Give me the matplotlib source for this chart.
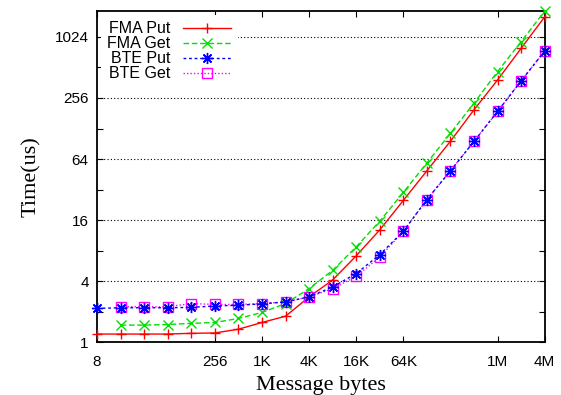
import numpy as np
import matplotlib
matplotlib.use('Agg')
import matplotlib.pyplot as plt

# message sizes in bytes, 8 .. 4M
sizes = [8, 16, 32, 64, 128, 256, 512, 1024, 2048, 4096, 8192, 16384, 32768,
         65536, 131072, 262144, 524288, 1048576, 2097152, 4194304]

fma_put = [1.2, 1.2, 1.2, 1.2, 1.22, 1.23, 1.34, 1.56, 1.8, 2.79, 4.1, 7.1,
           12.8, 25, 49, 96, 196, 386, 792, 1620]
# the get series start at 16 bytes
fma_get = [1.47, 1.47, 1.49, 1.53, 1.56, 1.71, 1.96, 2.4, 3.37, 5.1, 8.7,
           15.6, 30, 58.6, 115, 228, 467, 922, 1845]
bte_put = [2.15, 2.18, 2.18, 2.18, 2.2, 2.27, 2.31, 2.38, 2.49, 2.79, 3.5, 4.74,
           7.3, 12.4, 25.5, 49, 95.6, 189, 378, 746]
bte_get = [2.23, 2.23, 2.23, 2.4, 2.35, 2.35, 2.4, 2.49, 2.79, 3.37, 4.46,
           6.9, 12.4, 25.5, 49, 95.6, 189, 378, 746]

xticks = [8, 256, 1024, 4096, 16384, 65536, 1048576, 4194304]
xlabels = ['8', '256', '1K', '4K', '16K', '64K', '1M', '4M']
yticks = [1, 4, 16, 64, 256, 1024]

plt.rcParams['font.family'] = ['Liberation Sans', 'DejaVu Sans']
plt.rcParams['font.size'] = 11

fig = plt.figure(figsize=(5.61, 3.95), dpi=100)
ax = fig.add_axes([0.173, 0.134, 0.798, 0.838])

ax.plot(sizes, fma_put, color='#ff0000', ls='-', lw=1, marker='+', ms=7,
        mew=1, label='FMA Put', clip_on=False, zorder=3)
ax.plot(sizes[1:], fma_get, color='#00e000', ls=(0, (4, 2)), lw=1, marker='x',
        ms=7, mew=1, label='FMA Get', clip_on=False, zorder=3)
ax.plot(sizes, bte_put, color='#0000ff', ls=(0, (2, 2)), lw=1, marker=(8, 2, 0),
        ms=8, mew=1, label='BTE Put', clip_on=False, zorder=4)
ax.plot(sizes[1:], bte_get, color='#ff00ff', ls=(0, (1, 1.5)), lw=1, marker='s',
        ms=7, mew=1, mfc='none', label='BTE Get', clip_on=False, zorder=3)

ax.set_xscale('log', base=2)
ax.set_yscale('log', base=2)
ax.set_xlim(8, 4194304)
ax.set_ylim(1, max(fma_get))

ax.set_xticks(xticks)
ax.set_xticklabels(xlabels)
ax.xaxis.set_minor_locator(matplotlib.ticker.NullLocator())
ax.set_yticks(yticks)
ax.set_yticklabels([str(v) for v in yticks])
ax.set_yticks([2, 8, 32, 128, 512], minor=True)
ax.yaxis.set_minor_formatter(matplotlib.ticker.NullFormatter())

ax.tick_params(which='both', direction='in', top=True, right=True)
ax.tick_params(which='major', length=4.5, width=0.8, pad=6)
ax.tick_params(axis='x', which='major', pad=9)
ax.tick_params(which='minor', length=4.5, width=0.8)
for s in ax.spines.values():
    s.set_linewidth(1.3)

ax.grid(axis='y', which='major', color='black', ls=(0, (1, 2)), lw=0.8)
ax.set_axisbelow(True)

ax.set_xlabel('Message bytes', family='Liberation Serif', fontsize=16, labelpad=5)
ax.set_ylabel('Time(us)', family='Liberation Serif', fontsize=16, labelpad=10)

leg = ax.legend(loc='upper left', markerfirst=False, frameon=True,
                handlelength=3.0, labelspacing=0.0, borderaxespad=0.25,
                handletextpad=0.8, fontsize=11.5)
leg.get_frame().set_edgecolor('none')
leg.get_frame().set_facecolor('white')
leg.get_frame().set_alpha(1)

plt.savefig('out.png', dpi=100)
